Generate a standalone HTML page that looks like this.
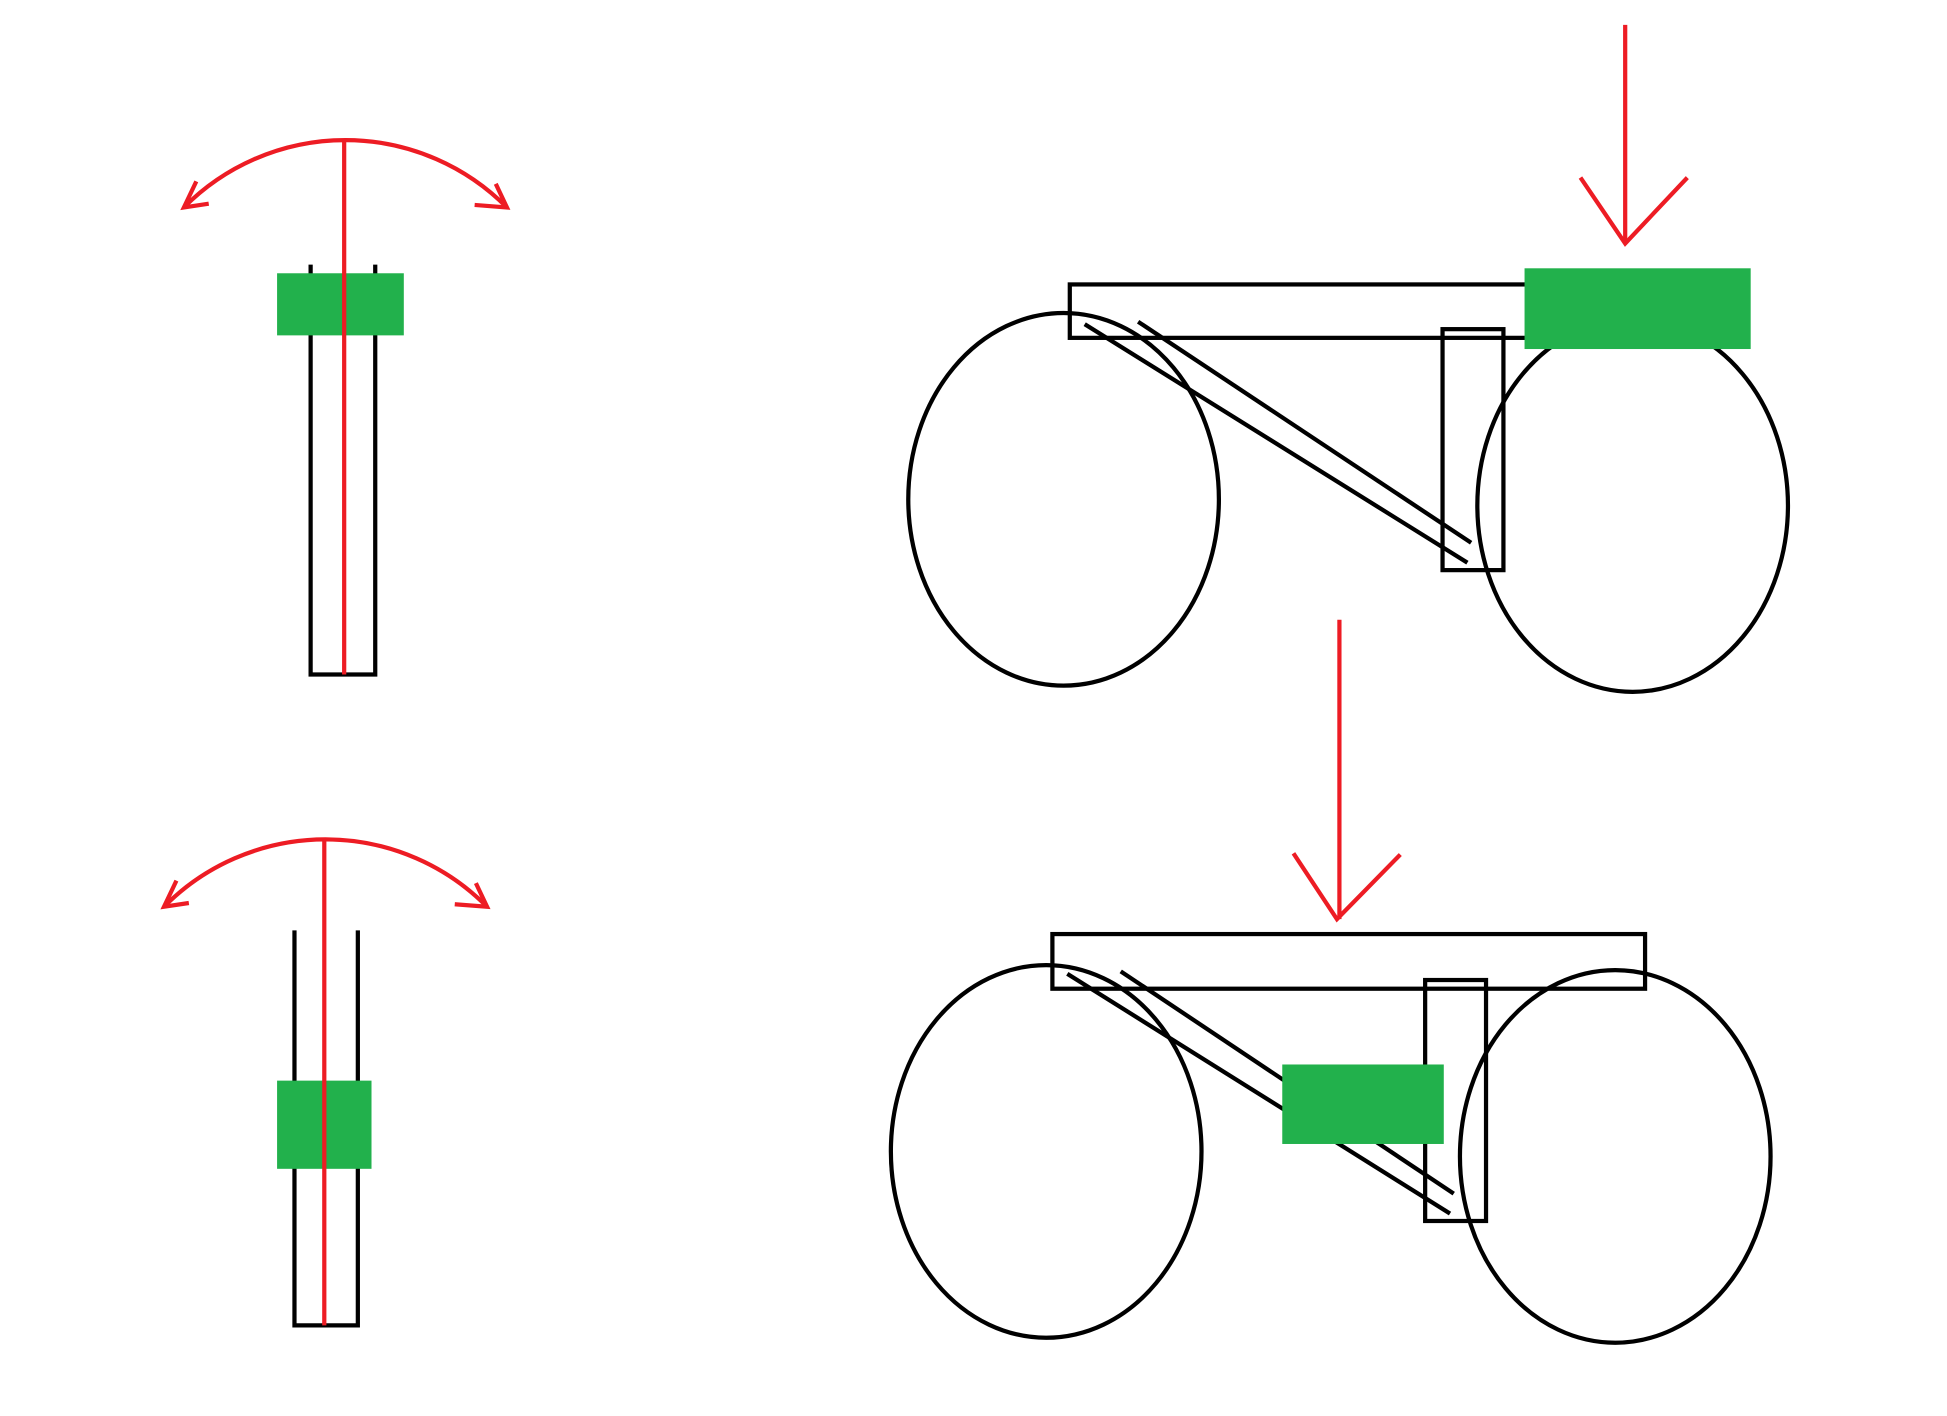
<!DOCTYPE html>
<html><head><meta charset="utf-8"><style>
html,body{margin:0;padding:0;background:#fff;width:1947px;height:1416px;overflow:hidden}
svg{display:block}
</style></head><body>
<svg width="1947" height="1416" viewBox="0 0 1567 1140" preserveAspectRatio="none" xmlns="http://www.w3.org/2000/svg">
<g fill="none" stroke="#000" stroke-width="3.4">
<path d="M250 213 V543 H302 V213"/>
<path d="M237 749 V1067 H288 V749"/>
<ellipse cx="856" cy="402" rx="125" ry="150"/>
<ellipse cx="1314" cy="407" rx="125" ry="150"/>
<rect x="861" y="229" width="374" height="43"/>
<rect x="1161" y="265" width="49" height="194"/>
<line x1="873" y1="261" x2="1181" y2="453"/>
<line x1="916" y1="259" x2="1184" y2="437"/>
<ellipse cx="842" cy="927" rx="125" ry="150"/>
<ellipse cx="1300" cy="931" rx="125" ry="150"/>
<rect x="847" y="752" width="477" height="44"/>
<rect x="1147" y="789" width="49" height="194"/>
<line x1="859" y1="784" x2="1167" y2="977"/>
<line x1="902" y1="782" x2="1170" y2="961"/>
</g>
<g fill="#22b14c">
<rect x="223" y="220" width="102" height="50"/>
<rect x="223" y="870" width="76" height="71"/>
<rect x="1227" y="216" width="182" height="65"/>
<rect x="1032" y="857" width="130" height="64"/>
</g>
<g fill="none" stroke="#ed1c24" stroke-width="3.4">
<line x1="277" y1="113" x2="277" y2="543"/>
<path d="M148 167 A183 183 0 0 1 408 167"/>
<path d="M158 146 L148 167 L168 164"/>
<path d="M382 165 L408 167 L399 148"/>
<line x1="261" y1="676" x2="261" y2="1067"/>
<path d="M132 730 A183 183 0 0 1 392 730"/>
<path d="M142 709 L132 730 L152 727"/>
<path d="M366 728 L392 730 L383 711"/>
<line x1="1308" y1="20" x2="1308" y2="196"/>
<path d="M1272 143 L1308 196 L1358 143"/>
<line x1="1078" y1="499" x2="1078" y2="740"/>
<path d="M1041 687 L1076 740 L1127 688"/>
</g>
</svg>
</body></html>
